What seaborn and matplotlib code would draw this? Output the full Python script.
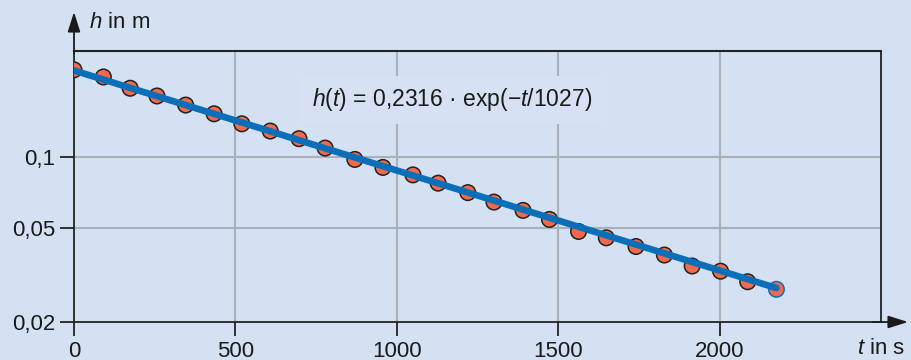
import numpy as np
import pandas as pd
import matplotlib
matplotlib.use("Agg")
import matplotlib.pyplot as plt
import seaborn as sns

# Measured outflow: time in s, water level in m
t_s = [0, 91, 174, 257, 346, 434, 520, 608, 697, 778, 870, 957, 1050,
       1128, 1220, 1301, 1391, 1473, 1563, 1649, 1741, 1829, 1915, 2003,
       2087, 2176]
h_m = [0.2331, 0.2174, 0.1948, 0.1807, 0.1654, 0.1519, 0.1378, 0.1284,
       0.1192, 0.1088, 0.0974, 0.0901, 0.0838, 0.0773, 0.0705, 0.0643,
       0.0593, 0.0543, 0.0483, 0.0454, 0.0417, 0.0384, 0.0345, 0.0328,
       0.0296, 0.0275]

# Fitted exponential h(t) = h0 * exp(-t / tau)
h0 = 0.2316
tau = 1027

x_ticks = [0, 500, 1000, 1500, 2000]
x_tick_labels = ["0", "500", "1000", "1500", "2000"]
y_ticks = [0.02, 0.05, 0.1]
y_tick_labels = ["0,02", "0,05", "0,1"]

BG = "#D4E1F3"
ORANGE = "#F26A4B"
BLUE = "#0A6FB8"
GRID = "#A9B0B9"
INK = "#1a1a1a"

sns.set_theme(style="ticks")
plt.rcParams["font.family"] = ["Liberation Sans", "DejaVu Sans"]
plt.rcParams["mathtext.fontset"] = "custom"
plt.rcParams["mathtext.rm"] = "Liberation Sans"
plt.rcParams["mathtext.it"] = "Liberation Sans:italic"

fig = plt.figure(figsize=(9.11, 3.6), dpi=100, facecolor=BG)
ax = fig.add_axes([74 / 911, 1 - 322 / 360, (881 - 74) / 911, (322 - 51) / 360])
ax.set_facecolor(BG)

df = pd.DataFrame({"t": t_s, "h": h_m})
t_line = np.linspace(t_s[0], t_s[-1], 200)
fit = pd.DataFrame({"t": t_line, "h": h0 * np.exp(-t_line / tau)})

ax.set_yscale("log")
ax.set_xlim(0, 2500)
ax.set_ylim(0.02, 0.28)

# grid
for xv in x_ticks[1:]:
    ax.axvline(xv, color=GRID, lw=1.5, zorder=0)
for yv in y_ticks[1:]:
    ax.axhline(yv, color=GRID, lw=1.5, zorder=0)

edge = ["#222222"] * (len(df) - 1) + [BLUE]
sns.scatterplot(data=df, x="t", y="h", ax=ax, s=125, color=ORANGE,
                edgecolor=edge, linewidth=1.1, zorder=3, legend=False)
sns.lineplot(data=fit, x="t", y="h", ax=ax, color=BLUE, lw=4.8, zorder=4,
             legend=False)

ax.set_xticks(x_ticks)
ax.set_xticklabels(x_tick_labels)
ax.set_yticks(y_ticks)
ax.set_yticklabels(y_tick_labels)
ax.yaxis.set_minor_locator(matplotlib.ticker.NullLocator())
ax.tick_params(axis="both", length=10, width=1.3, color="#222222",
               labelsize=16, labelcolor=INK, pad=3.5)
ax.set_xlabel("")
ax.set_ylabel("")

for side in ["left", "bottom", "top", "right"]:
    ax.spines[side].set_color("#222222")
    ax.spines[side].set_linewidth(1.3)
ax.spines["top"].set_linewidth(1.5)

# axis arrows
arrow = dict(arrowstyle="-|>,head_length=1.2,head_width=0.38",
             color=INK, lw=1.3, mutation_scale=10, shrinkA=0, shrinkB=0)
ax.annotate("", xy=(0, (322 - 12) / 271), xytext=(0, 0.99),
            xycoords="axes fraction", textcoords="axes fraction",
            arrowprops=arrow, annotation_clip=False)
ax.annotate("", xy=((908 - 74) / 807, 0), xytext=(0.99, 0),
            xycoords="axes fraction", textcoords="axes fraction",
            arrowprops=arrow, annotation_clip=False)

# axis labels
fig.text(89 / 911, 1 - 28 / 360, r"$h$ in m", fontsize=16, ha="left",
         va="baseline", color=INK)
fig.text(905 / 911, 1 - 354 / 360, r"$t$ in s", fontsize=16, ha="right",
         va="baseline", color=INK)

# fit equation
ax.text(1170, 0.174, r"$h$($t$) = 0,2316 · exp(−$t$/1027)", fontsize=16.5,
        ha="center", va="center", color=INK, zorder=2,
        bbox=dict(boxstyle="square,pad=0.45", facecolor="#D6E2F3",
                  edgecolor="none"))

fig.savefig("out.png", dpi=100, facecolor=BG)
